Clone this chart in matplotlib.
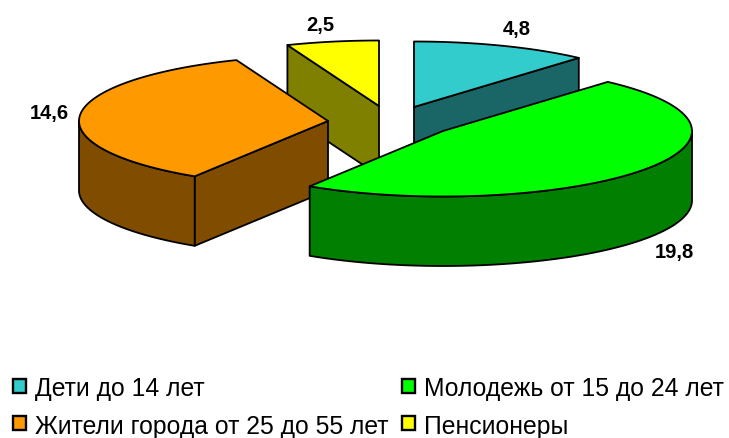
import numpy as np
import matplotlib
matplotlib.use("Agg")
import matplotlib.pyplot as plt
from matplotlib.patches import Polygon, Rectangle

plt.rcParams['font.family'] = ['Liberation Sans', 'DejaVu Sans']

# Data
categories = ["Дети до 14 лет", "Молодежь от 15 до 24 лет",
              "Жители города от 25 до 55 лет", "Пенсионеры"]
values = [4.8, 19.8, 14.6, 2.5]
value_labels = ["4,8", "19,8", "14,6", "2,5"]

# Style / layout
top_colors = ["#33CCCC", "#00FF00", "#FF9900", "#FFFF00"]
side_colors = ["#1A6666", "#007F00", "#7F4C00", "#7F7F00"]
apexes = [(414, 108), (443, 132), (328, 122), (379, 107)]
A, B, DEPTH = 249, 65.5, 69.5
label_pos = [(517, 29), (674.5, 253), (49, 114), (320, 25)]
legend_pos = [(13, 379.5), (402, 379.5), (13, 417.5), (402, 417.5)]
draw_order = [3, 0, 2, 1]

W, H = 729, 439
fig = plt.figure(figsize=(W / 100, H / 100), dpi=100)
ax = fig.add_axes([0, 0, 1, 1])
ax.set_xlim(0, W)
ax.set_ylim(H, 0)
ax.axis("off")


def rim(cx, cy, t0, t1, n=80):
    t = np.radians(np.linspace(t0, t1, n))
    return np.column_stack([cx + A * np.sin(t), cy - B * np.cos(t)])


def extrude(points, edge):
    pts = np.asarray(points, dtype=float)
    lower = pts[::-1] + [0, DEPTH]
    ax.add_patch(Polygon(np.vstack([pts, lower]), closed=True, facecolor=edge,
                         edgecolor="black", lw=1.3, joinstyle="round"))


total = sum(values)
edges = np.concatenate([[0], np.cumsum(values) / total * 360])

for i in draw_order:
    t0, t1 = edges[i], edges[i + 1]
    cx, cy = apexes[i]
    full = rim(cx, cy, t0, t1)
    if t1 < 180:  # cut face at the end angle looks towards the viewer
        extrude([(cx, cy), tuple(full[-1])], side_colors[i])
    if t0 > 180:  # cut face at the start angle looks towards the viewer
        extrude([(cx, cy), tuple(full[0])], side_colors[i])
    # Outer wall on the front half of the ellipse
    f0, f1 = max(t0, 90), min(t1, 270)
    if f1 > f0:
        extrude(rim(cx, cy, f0, f1), side_colors[i])
    # Top surface
    ax.add_patch(Polygon(np.vstack([[(cx, cy)], full]), closed=True,
                         facecolor=top_colors[i], edgecolor="black", lw=1.3,
                         joinstyle="round"))

for (x, y), s in zip(label_pos, value_labels):
    ax.text(x, y, s, ha="center", va="center", fontsize=14.5,
            fontweight="bold", color="black")

for (x, y), s, c in zip(legend_pos, categories, top_colors):
    ax.add_patch(Rectangle((x, y), 13, 14, facecolor=c, edgecolor="black", lw=1.7))
    ax.text(x + 22.5, y + 9.5, s, ha="left", va="center", fontsize=17.8, color="black")

fig.savefig("out.png", dpi=100)
